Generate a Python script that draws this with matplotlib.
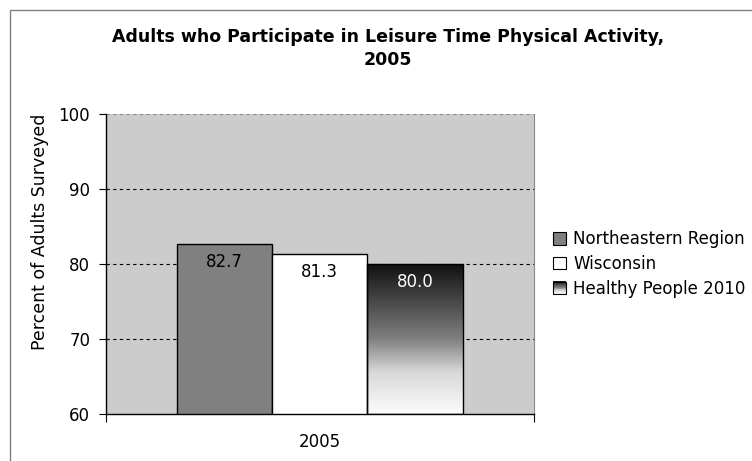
import matplotlib
matplotlib.use("Agg")
import matplotlib.pyplot as plt
import numpy as np
from matplotlib.colors import LinearSegmentedColormap
from matplotlib.patches import Rectangle, Patch
from matplotlib.legend_handler import HandlerBase
from matplotlib.image import BboxImage
from matplotlib.transforms import Bbox, TransformedBbox

# données
series = ['Northeastern Region', 'Wisconsin', 'Healthy People 2010']
values = [82.7, 81.3, 80.0]
category = '2005'
title = 'Adults who Participate in Leisure Time Physical Activity,\n2005'
ylabel = 'Percent of Adults Surveyed'

plt.rcParams['font.family'] = 'DejaVu Sans'

# dégradé noir -> blanc (haut -> bas)
grad_cmap = LinearSegmentedColormap.from_list(
    'grad', [(0.0, '#111111'), (0.5, '#808080'), (0.72, '#d8d8d8'), (1.0, '#fcfcfc')])
ramp = np.linspace(0, 1, 256).reshape(-1, 1)


class GradHandler(HandlerBase):
    def create_artists(self, legend, orig_handle, xdescent, ydescent,
                       width, height, fontsize, trans):
        bb = TransformedBbox(Bbox.from_bounds(-xdescent, -ydescent, width, height), trans)
        img = BboxImage(bb, cmap=grad_cmap, interpolation='bilinear')
        img.set_data(ramp)
        img.set_clim(0, 1)
        rect = Rectangle((-xdescent, -ydescent), width, height, fill=False,
                         edgecolor='black', linewidth=0.8, transform=trans)
        return [img, rect]


W, H = 752, 461
fig = plt.figure(figsize=(W / 100, H / 100), dpi=100)
ax = fig.add_axes([105.5 / W, 47 / H, 428.5 / W, 300 / H])
ax.set_facecolor('#cccccc')

x = np.array([-1, 0, 1])
width = 1.0
colors = ['#808080', 'white', 'none']
bars = ax.bar(x, [v - 60 for v in values], width=width, bottom=60, color=colors,
              edgecolor='black', linewidth=1.0, zorder=3)

# barre en dégradé
b = bars[2]
ax.imshow(ramp, extent=[b.get_x(), b.get_x() + b.get_width(), 60, values[2]],
          aspect='auto', cmap=grad_cmap, vmin=0, vmax=1, zorder=2.5,
          interpolation='bilinear')

ax.set_xlim(-2.25, 2.25)
ax.set_ylim(60, 100)

# grille
for yv in [70, 80, 90]:
    ax.axhline(yv, color='black', linestyle=(0, (3, 3)), linewidth=0.8, zorder=1)
ax.axhline(100, color='#888888', linestyle=(0, (3, 3)), linewidth=0.8, zorder=1)

ax.spines['top'].set_visible(False)
ax.spines['right'].set_color('#888888')
ax.spines['right'].set_linewidth(0.8)
ax.spines['left'].set_linewidth(1.0)
ax.spines['bottom'].set_linewidth(1.0)

ax.set_yticks([60, 70, 80, 90, 100])
ax.tick_params(axis='y', direction='out', length=5, width=0.8, pad=6, labelsize=12)
ax.set_xticks([0])
ax.set_xticklabels([category])
ax.tick_params(axis='x', which='major', length=0, pad=14, labelsize=12)
ax.set_xticks([-2.25, 2.25], minor=True)
ax.tick_params(axis='x', which='minor', direction='out', length=6, width=0.8)

# étiquettes des valeurs
label_colors = ['black', 'black', 'white']
for bar, v, c in zip(bars, values, label_colors):
    ax.annotate(f'{v:.1f}', (bar.get_x() + bar.get_width() / 2, v),
                xytext=(0, -13), textcoords='offset points',
                ha='center', va='center', fontsize=12, color=c, zorder=5)

fig.text(40 / W, 1 - 232 / H, ylabel, rotation=90, ha='center', va='center', fontsize=12.5)
fig.text(388 / W, 1 - 48.5 / H, title, ha='center', va='center', fontsize=12.5,
         fontweight='bold', linespacing=1.3)

# légende
handles = [Patch(facecolor='#808080', edgecolor='black', linewidth=0.8),
           Patch(facecolor='white', edgecolor='black', linewidth=0.8),
           Patch(facecolor='none')]
fig.legend(handles, series, loc='center left', bbox_to_anchor=(553 / W, 1 - 264 / H),
           frameon=False, fontsize=12, handlelength=0.75, handleheight=0.75,
           handletextpad=0.45, labelspacing=0.4, borderpad=0, borderaxespad=0,
           handler_map={handles[2]: GradHandler()})

# cadre du graphique
fig.patches.append(Rectangle((10 / W, -0.1), 1.2, 1.1 - 10 / H, transform=fig.transFigure,
                             fill=False, edgecolor='#808080', linewidth=1.0))

fig.savefig('out.png', dpi=100)
